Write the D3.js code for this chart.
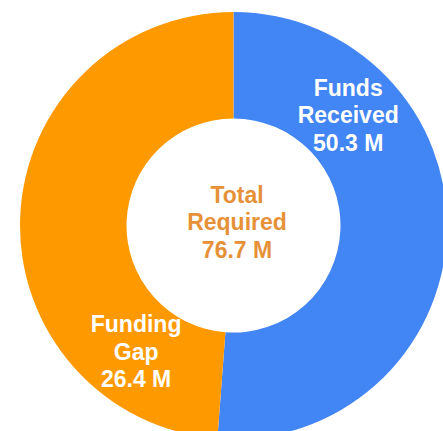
<!DOCTYPE html>
<html>
<head>
<meta charset="utf-8">
<script src="https://cdn.jsdelivr.net/npm/d3@7"></script>
<style>
    body { margin: 0; background: #fff; }
    svg { display: block; }
    text { font-family: "Liberation Sans", Arial, sans-serif; font-weight: bold; font-size: 23px; }
</style>
</head>
<body>
<div id="chart"></div>
<script>
// slice labels and amounts (millions)
const categories = ["Funds Received", "Funding Gap"];
const amounts = [50.3, 26.4];
// share of the ring each slice takes (%)
const shares = [51.2, 48.8];
const colors = ["#4285f4", "#ff9900"];
const totalLabel = ["Total", "Required", "76.7 M"];

const width = 443, height = 431;
const cx = 233.5, cy = 225.5;
const outerR = 213.5, innerR = 107;
const lineH = 27.5;

const svg = d3.select("#chart").append("svg")
    .attr("width", width)
    .attr("height", height);

const g = svg.append("g")
    .attr("transform", "translate(" + cx + "," + cy + ")");

const pie = d3.pie().sort(null).value(function(d) { return d; });
const arcs = pie(shares);

const arc = d3.arc().innerRadius(innerR).outerRadius(outerR);

g.selectAll(".slice")
    .data(arcs)
    .enter()
    .append("path")
    .classed("slice", true)
    .attr("d", arc)
    .attr("fill", function(d, i) { return colors[i]; });

// labels sit part way round each slice, mid ring
const labelPos = [0.25, 0.19];
const midR = (innerR + outerR) / 2 - 1;

const labels = g.selectAll(".label")
    .data(arcs)
    .enter()
    .append("text")
    .classed("label", true)
    .attr("fill", "#fff")
    .attr("text-anchor", "middle")
    .attr("transform", function(d, i) {
        let a = d.startAngle + (d.endAngle - d.startAngle) * labelPos[i];
        return "translate(" + (Math.sin(a) * midR) + "," + (-Math.cos(a) * midR) + ")";
    });

labels.each(function(d, i) {
    let words = categories[i].split(" ");
    let lines = [words[0], words.slice(1).join(" "), amounts[i] + " M"];
    d3.select(this).selectAll("tspan")
        .data(lines)
        .enter()
        .append("tspan")
        .attr("x", 0)
        .attr("y", function(l, j) { return (j - 1) * lineH + 8; })
        .text(function(l) { return l; });
});

// centre text
g.append("text")
    .attr("fill", "#e69138")
    .attr("text-anchor", "middle")
    .selectAll("tspan")
    .data(totalLabel)
    .enter()
    .append("tspan")
    .attr("x", 3.5)
    .attr("y", function(l, j) { return (j - 1) * lineH + 4.5; })
    .text(function(l) { return l; });
</script>
</body>
</html>
